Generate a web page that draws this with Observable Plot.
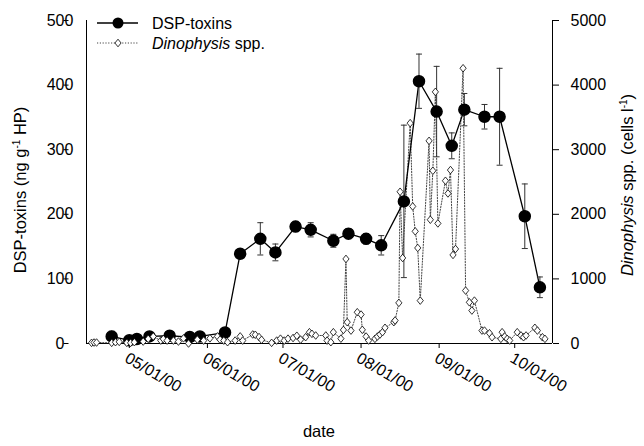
<!DOCTYPE html>
<html><head><meta charset="utf-8">
<script src="https://cdn.jsdelivr.net/npm/d3@7"></script>
<script src="https://cdn.jsdelivr.net/npm/@observablehq/plot@0.6"></script>
<style>body{margin:0;background:#fff} svg{font-family:"Liberation Sans",Arial,sans-serif}</style>
</head><body><div id="chart"></div>
<script>
// DSP-toxins (ng g-1 HP), mean and error
const dspDates = ["2000-04-24","2000-05-01","2000-05-04","2000-05-09","2000-05-17","2000-05-25","2000-05-29","2000-06-08","2000-06-14","2000-06-22","2000-06-28","2000-07-06","2000-07-12","2000-07-21","2000-07-27","2000-08-03","2000-08-09","2000-08-18","2000-08-24","2000-08-31","2000-09-06","2000-09-11","2000-09-19","2000-09-25","2000-10-05","2000-10-11"];
const dspValues = [11,5,7,11,12,10,11,17,139,162,141,181,176,159,170,162,152,220,406,359,306,362,351,351,197,87];
const dspErrors = [8,2,3,4,5,3,3,4,3,25,13,8,11,10,8,8,15,118,42,70,20,25,19,75,50,16];

// Dinophysis spp. (cells l-1)
const dinoDates = ["2000-04-16","2000-04-17","2000-04-18","2000-04-24","2000-04-25T12:00Z","2000-04-27","2000-04-30","2000-05-01T12:00Z","2000-05-03","2000-05-06T12:00Z",
"2000-05-08T12:00Z","2000-05-10T12:00Z","2000-05-13T12:00Z","2000-05-14T12:00Z","2000-05-16","2000-05-18T12:00Z","2000-05-20T12:00Z","2000-05-22T12:00Z","2000-05-24T12:00Z","2000-05-28",
"2000-05-30T12:00Z","2000-06-02","2000-06-05","2000-06-06","2000-06-07T12:00Z","2000-06-09","2000-06-12","2000-06-14","2000-06-15","2000-06-19",
"2000-06-20","2000-06-21T12:00Z","2000-06-22T12:00Z","2000-06-26T12:00Z","2000-06-28T12:00Z","2000-06-30","2000-07-01T12:00Z","2000-07-03","2000-07-05","2000-07-06T12:00Z",
"2000-07-08","2000-07-10","2000-07-11T12:00Z","2000-07-12T12:00Z","2000-07-14","2000-07-18","2000-07-18T12:00Z","2000-07-20","2000-07-21","2000-07-24",
"2000-07-25","2000-07-26","2000-07-26T12:00Z","2000-07-28","2000-07-30T12:00Z","2000-08-01","2000-08-01T12:00Z","2000-08-03","2000-08-04","2000-08-06T12:00Z",
"2000-08-07T12:00Z","2000-08-08T12:00Z","2000-08-09T12:00Z","2000-08-10T12:00Z","2000-08-14","2000-08-14T12:00Z","2000-08-16","2000-08-16T12:00Z","2000-08-17T12:00Z","2000-08-20T12:00Z",
"2000-08-21T12:00Z","2000-08-22T12:00Z","2000-08-23T12:00Z","2000-08-24T12:00Z","2000-08-28","2000-08-28T12:00Z","2000-08-29T12:00Z","2000-08-30T12:00Z","2000-08-31T12:00Z","2000-09-03T12:00Z",
"2000-09-04T12:00Z","2000-09-05T12:00Z","2000-09-06T12:00Z","2000-09-07T12:00Z","2000-09-10T12:00Z","2000-09-11T12:00Z","2000-09-13","2000-09-14","2000-09-15","2000-09-18",
"2000-09-19","2000-09-21","2000-09-22","2000-09-25T12:00Z","2000-09-26","2000-09-27","2000-09-28","2000-09-29","2000-10-02","2000-10-03T12:00Z",
"2000-10-04T12:00Z","2000-10-05T12:00Z","2000-10-09","2000-10-10","2000-10-12","2000-10-13"];
const dinoCells = [10,15,15,10,20,25,10,10,20,30,
72,108,45,70,45,45,30,80,0,60,
45,80,110,60,45,20,45,110,45,140,
135,100,57,10,45,75,45,75,85,120,
60,98,175,150,124,124,45,20,175,75,
210,1309,330,200,484,448,212,108,46,72,
108,139,175,243,330,356,629,2349,1324,3411,
2122,1736,1479,664,3137,1916,2674,3895,1859,2519,
2323,2685,1371,1463,4261,819,638,510,664,200,
200,159,97,72,175,108,72,46,175,124,
97,124,243,200,97,72];

const leftTicks = [0,100,200,300,400,500];
const rightTicks = [0,1000,2000,3000,4000,5000];
const monthTicks = ["2000-05-01","2000-06-01","2000-07-01","2000-08-01","2000-09-01","2000-10-01"];
const xDomain = ["2000-04-14","2000-10-16"];
const cellsPerUnit = 10; // right axis = left axis x 10

const dsp = dspDates.map((d,i)=>({date:new Date(d), v:dspValues[i], e:dspErrors[i]}));
const dino = dinoDates.map((d,i)=>({date:new Date(d), c:dinoCells[i]}));

const capSymbol = {draw(ctx){ ctx.moveTo(-3,0); ctx.lineTo(3,0); }};
const diamondSymbol = {draw(ctx){ ctx.moveTo(0,-3.8); ctx.lineTo(3.1,0); ctx.lineTo(0,3.8); ctx.lineTo(-3.1,0); ctx.closePath(); }};

const font = "Liberation Sans, Arial, sans-serif";
const chart = Plot.plot({
  width:644, height:446,
  marginLeft:86, marginRight:92, marginTop:20, marginBottom:103,
  style:{fontFamily:font, fontSize:"16px", background:"#fff", color:"#000", overflow:"visible"},
  x:{type:"utc", domain:xDomain.map(d=>new Date(d))},
  y:{domain:[0,500]},
  marks:[
    Plot.axisY({ticks:leftTicks, anchor:"left", tickSize:5, tickPadding:4, textAnchor:"middle", dx:-17.5, label:null, fontSize:16}),
    Plot.axisY({ticks:rightTicks.map(t=>t/cellsPerUnit), anchor:"right", tickSize:6, tickPadding:12, tickFormat:(d,i)=>String(rightTicks[i]), label:null, fontSize:16}),
    Plot.axisX({ticks:monthTicks.map(d=>new Date(d)), tickFormat:d3.utcFormat("%m/%d/%y"), tickSize:5, tickRotate:30, textAnchor:"start", lineAnchor:"top", tickPadding:3, label:null, fontSize:16}),
    Plot.ruleY([0], {stroke:"#000"}),
    Plot.ruleX([new Date(xDomain[0]), new Date(xDomain[1])], {y1:0, y2:500, stroke:"#000"}),
    Plot.line(dino, {x:"date", y:d=>d.c/cellsPerUnit, stroke:"#444", strokeWidth:1, strokeDasharray:"1.2,1.6"}),
    Plot.line(dsp, {x:"date", y:"v", stroke:"#000", strokeWidth:1.3}),
    Plot.ruleX(dsp, {x:"date", y1:d=>d.v-d.e, y2:d=>d.v+d.e, stroke:"#333", strokeWidth:1}),
    Plot.dot(dsp, {x:"date", y:d=>d.v+d.e, symbol:capSymbol, r:3, stroke:"#333", strokeWidth:1}),
    Plot.dot(dsp, {x:"date", y:d=>d.v-d.e, symbol:capSymbol, r:3, stroke:"#333", strokeWidth:1}),
    Plot.dot(dsp, {x:"date", y:"v", r:5.5, fill:"#000", stroke:"#000"}),
    Plot.dot(dino, {x:"date", y:d=>d.c/cellsPerUnit, symbol:diamondSymbol, r:3, stroke:"#000", fill:"#fff", strokeWidth:0.8})
  ]
});
document.getElementById("chart").appendChild(chart);

const svg = d3.select(chart);
// Axis titles
const lt = svg.append("text").attr("transform","translate(26,190) rotate(-90)").attr("text-anchor","middle").attr("font-size",16.5).attr("fill","#000");
lt.append("tspan").text("DSP-toxins (ng g");
lt.append("tspan").attr("dy",-6).attr("font-size",10).text("-1");
lt.append("tspan").attr("dy",6).text(" HP)");

const rt = svg.append("text").attr("transform","translate(633,185) rotate(-90)").attr("text-anchor","middle").attr("font-size",16.5).attr("fill","#000");
rt.append("tspan").attr("font-style","italic").text("Dinophysis");
rt.append("tspan").text(" spp. (cells l");
rt.append("tspan").attr("dy",-6).attr("font-size",10).text("-1");
rt.append("tspan").attr("dy",6).text(")");

svg.append("text").attr("x",319).attr("y",437).attr("text-anchor","middle").attr("font-size",16.5).attr("fill","#000").text("date");

// Legend
const lg = svg.append("g").attr("text-anchor","start");
lg.append("line").attr("x1",97).attr("x2",138).attr("y1",23).attr("y2",23).attr("stroke","#000").attr("stroke-width",1.3);
lg.append("circle").attr("cx",118).attr("cy",23).attr("r",5.5).attr("fill","#000");
lg.append("text").attr("x",152).attr("y",28.5).attr("font-size",16).attr("fill","#000").text("DSP-toxins");
lg.append("line").attr("x1",97).attr("x2",138).attr("y1",43).attr("y2",43).attr("stroke","#444").attr("stroke-dasharray","1.2,1.6");
lg.append("path").attr("d","M118,39.2L121.1,43L118,46.8L114.9,43Z").attr("fill","#fff").attr("stroke","#000").attr("stroke-width",0.8);
const l2 = lg.append("text").attr("x",152).attr("y",48.5).attr("font-size",16).attr("fill","#000");
l2.append("tspan").attr("font-style","italic").text("Dinophysis");
l2.append("tspan").text(" spp.");
</script></body></html>
